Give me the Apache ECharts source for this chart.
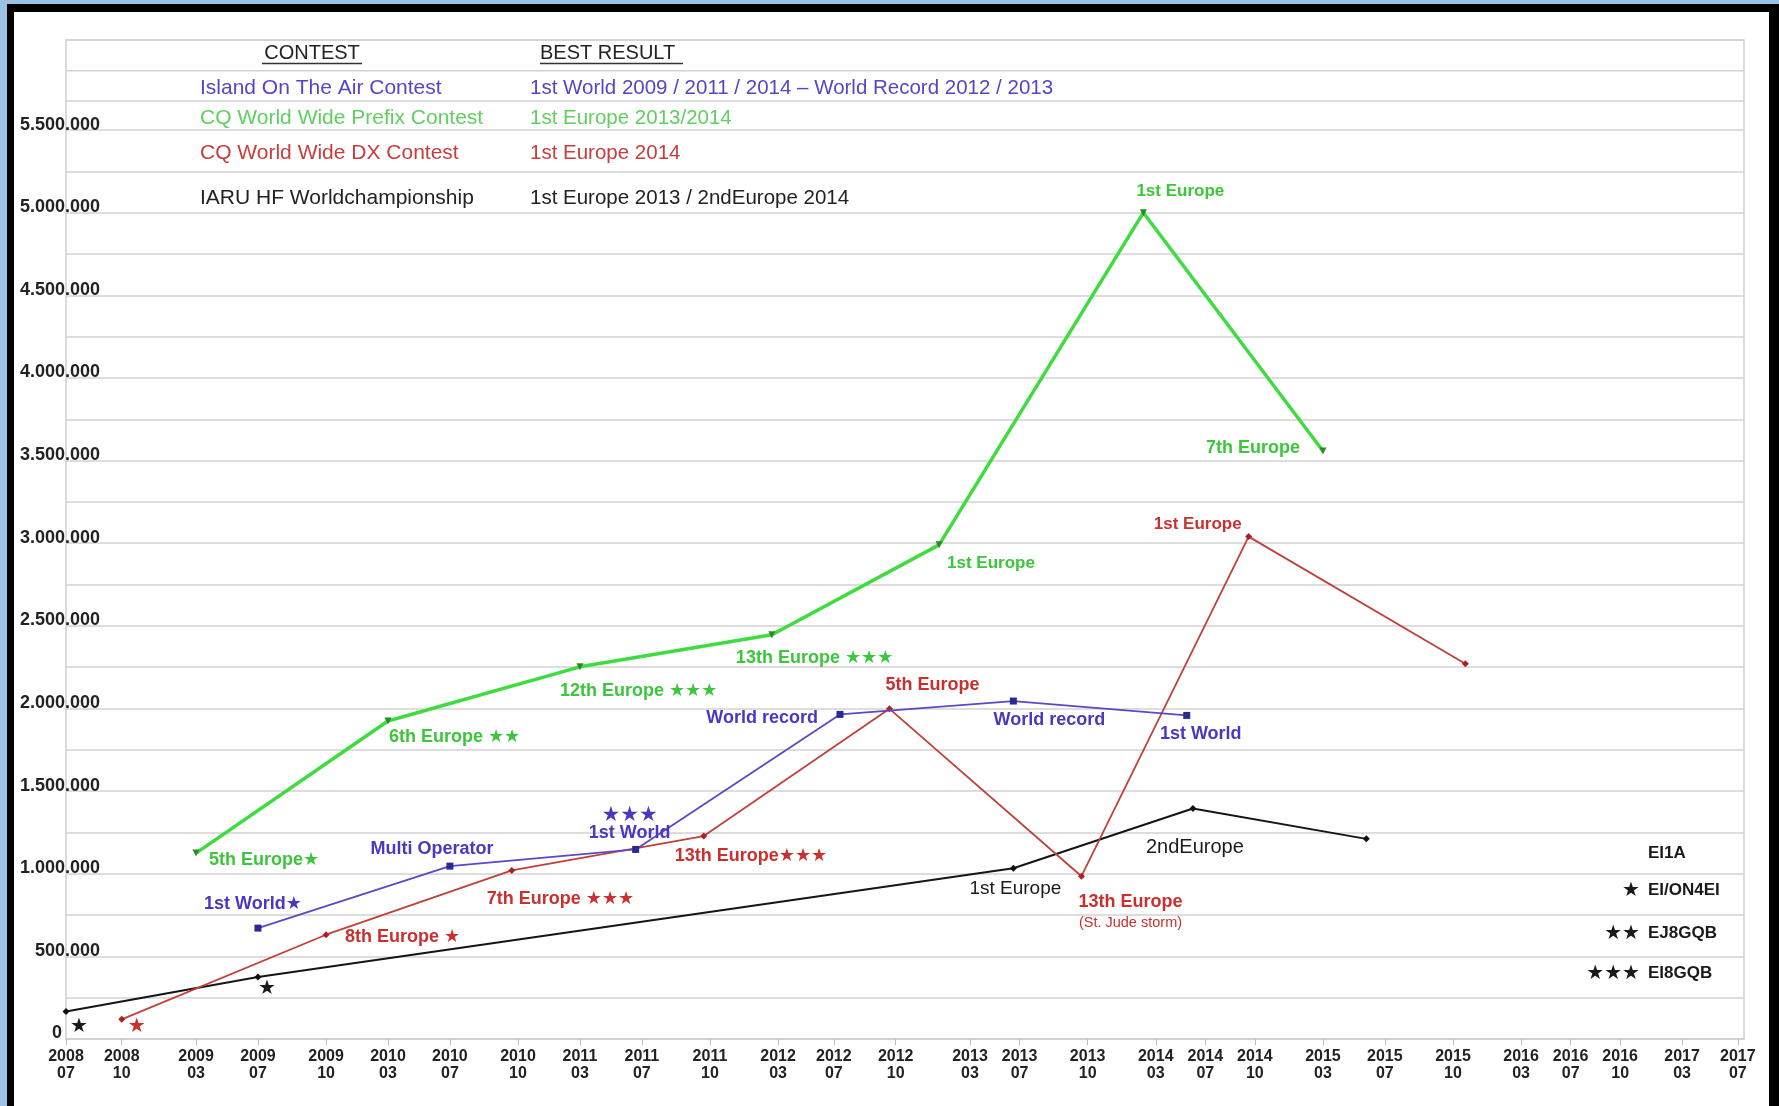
<!DOCTYPE html>
<html><head><meta charset="utf-8">
<script src="https://cdn.jsdelivr.net/npm/echarts@6.0.0/dist/echarts.min.js"></script>
<style>
html,body{margin:0;padding:0;background:#fff;}
#wrap{position:relative;width:1779px;height:1106px;background:#fff;overflow:hidden;}
#chart{position:absolute;left:0;top:0;width:1779px;height:1106px;}
.f{position:absolute;}
</style></head><body>
<div id="wrap">
<div id="chart"></div>
<div class="f" style="left:0;top:0;width:7px;height:1106px;background:#9cc3e6"></div>
<div class="f" style="left:0;top:0;width:1779px;height:4px;background:#9cc3e6"></div>
<div class="f" style="left:7px;top:4px;width:7px;height:1102px;background:#000"></div>
<div class="f" style="left:7px;top:4px;width:1772px;height:8px;background:#000"></div>
<div class="f" style="left:1769px;top:4px;width:10px;height:1102px;background:#000"></div>
</div>
<script>
// ---------- DATA ----------
const tickLabels = ['2008\n07','2008\n10','2009\n03','2009\n07','2009\n10','2010\n03','2010\n07','2010\n10',
  '2011\n03','2011\n07','2011\n10','2012\n03','2012\n07','2012\n10','2013\n03','2013\n07','2013\n10',
  '2014\n03','2014\n07','2014\n10','2015\n03','2015\n07','2015\n10','2016\n03','2016\n07','2016\n10',
  '2017\n03','2017\n07'];
// slot position of each tick label on the (irregular) time axis
const tickSlots = [0,9,21,31,42,52,62,73,83,93,104,115,124,134,146,154,165,176,184,192,203,213,224,235,243,251,261,270];
const slotCount = 272;

const yTickLabels = ['0','500.000','1.000.000','1.500.000','2.000.000','2.500.000','3.000.000',
  '3.500.000','4.000.000','4.500.000','5.000.000','5.500.000'];

const greenX = [21, 52, 83, 114, 141, 174, 203];
const greenY = [1125000, 1924000, 2252000, 2446000, 2990000, 5000000, 3558000];
const greenNotes = ['5th Europe\u2605', '6th Europe \u2605\u2605', '12th Europe \u2605\u2605\u2605',
  '13th Europe \u2605\u2605\u2605', '1st Europe', '1st Europe', '7th Europe'];

const redX = [9, 42, 72, 103, 133, 164, 191, 226];
const redY = [119000, 631000, 1020000, 1228000, 1998000, 985000, 3040000, 2271000];
const redNotes = ['\u2605', '8th Europe \u2605', '7th Europe \u2605\u2605\u2605', '13th Europe\u2605\u2605\u2605',
  '5th Europe', '{a|13th Europe}\n{b|(St. Jude storm)}', '1st Europe', ''];

const blueX = [31, 62, 92, 125, 153, 181];
const blueY = [671000, 1046000, 1147000, 1964000, 2045000, 1958000];
const blueNotes = ['1st World\u2605', 'Multi Operator', '{s|\u2605\u2605\u2605}\n{t|1st World}',
  'World record', 'World record', '1st World'];

const blackX = [0, 31, 153, 182, 210];
const blackY = [166000, 375000, 1033000, 1395000, 1211000];
const blackNotes = ['\u2605', '\u2605', '1st Europe', '2ndEurope', ''];

const contestNames = ['Island On The Air Contest', 'CQ World Wide Prefix Contest',
  'CQ World Wide DX Contest', 'IARU HF Worldchampionship'];
const bestResults = ['1st World 2009 / 2011 / 2014 \u2013 World Record 2012 / 2013', '1st Europe 2013/2014',
  '1st Europe 2014', '1st Europe 2013 / 2ndEurope 2014'];
const legendStars = ['', '\u2605', '\u2605\u2605', '\u2605\u2605\u2605'];
const legendCalls = ['EI1A', 'EI/ON4EI', 'EJ8GQB', 'EI8GQB'];

// ---------- LAYOUT / STYLE ----------
const FONT = '"Liberation Sans", Arial, "DejaVu Sans", sans-serif';
const C = {
  green: '#3fdc3f', greenTxt: '#3cc63c', greenSym: '#2a8a2a',
  red: '#c0403a', redTxt: '#c9302e',
  blue: '#5a48c8', blueTxt: '#4a38c0', blueSym: '#2a2a95',
  black: '#151515', grid: '#d2d2d2'
};
// [align, verticalAlign, dx, dy, fontSize, fontWeight]
const greenLay = [['left','middle',13,7,18,'bold'],['left','middle',1,16,18,'bold'],['left','middle',-20,24,18,'bold'],
  ['left','middle',-36,23,18,'bold'],['left','middle',8,18,17,'bold'],['left','middle',-7,-21,17,'bold'],['right','middle',-23,-3,18,'bold']];
const redLay = [['center','middle',15,7,20,'bold'],['left','middle',19,2,18,'bold'],['left','middle',-25,29,18,'bold'],
  ['left','middle',-29,20,18,'bold'],['left','middle',-4,-24,18,'bold'],['center','top',49,15,18,'bold'],
  ['right','middle',-7,-12,17,'bold'],['left','middle',0,0,18,'bold']];
const blueLay = [['center','middle',-5,-24,18,'bold'],['center','middle',-18,-17,18,'bold'],['center','bottom',-6,-7,18,'bold'],
  ['right','middle',-22,4,18,'bold'],['center','middle',36,19,18,'bold'],['center','middle',14,19,18,'bold']];
const blackLay = [['center','middle',13,15,20,'bold'],['center','middle',9,11,20,'bold'],['center','middle',2,20,19,'normal'],
  ['center','middle',2,39,20,'normal'],['left','middle',0,0,18,'normal']];

function build(xs, ys, notes, lay, color) {
  return xs.map((x, i) => {
    const L = lay[i];
    const item = { value: [x, ys[i]] };
    if (notes[i]) {
      item.label = {
        show: true, formatter: notes[i], position: 'inside',
        align: L[0], verticalAlign: L[1], offset: [L[2], L[3]],
        fontSize: L[4], fontWeight: L[5], color: color, fontFamily: FONT,
        rich: {
          a: { fontSize: 18, fontWeight: 'bold', color: color, fontFamily: FONT, lineHeight: 22, align: 'center' },
          b: { fontSize: 14.5, fontWeight: 'normal', color: color, fontFamily: FONT, lineHeight: 19, align: 'center' },
          s: { fontSize: 21, fontWeight: 'bold', color: color, fontFamily: FONT, lineHeight: 18, align: 'center' },
          t: { fontSize: 18, fontWeight: 'bold', color: color, fontFamily: FONT, lineHeight: 18, align: 'center' }
        }
      };
    } else {
      item.label = { show: false };
    }
    return item;
  });
}

const categories = Array.from({ length: slotCount }, (_, i) => String(i));
const slotToLabel = {};
tickSlots.forEach((s, i) => { slotToLabel[s] = tickLabels[i]; });

const yMax = 6045000, yStep = 250000;
const splitColors = [];
for (let v = 0; v <= yMax + yStep; v += yStep) {
  splitColors.push((v === 5750000 || v === 6000000) ? 'rgba(0,0,0,0)' : C.grid);
}

// graphic (table + right legend)
const graphic = [];
const tblY = [88, 118, 153, 198];
const tblColors = ['#5646c6', '#5fd05f', '#c93c3c', '#222'];
graphic.push({ type: 'line', shape: { x1: 66, y1: 70.7, x2: 1744, y2: 70.7 }, style: { stroke: C.grid, lineWidth: 1.6 }, z: 1 });
graphic.push({ type: 'line', shape: { x1: 66, y1: 101, x2: 1744, y2: 101 }, style: { stroke: C.grid, lineWidth: 1.6 }, z: 1 });
graphic.push({ type: 'text', x: 312, y: 53, style: { text: 'CONTEST', fill: '#222', font: '20px ' + FONT, align: 'center', verticalAlign: 'middle' } });
graphic.push({ type: 'line', shape: { x1: 262, y1: 63.5, x2: 362, y2: 63.5 }, style: { stroke: '#333', lineWidth: 1.5 } });
graphic.push({ type: 'text', x: 540, y: 53, style: { text: 'BEST RESULT', fill: '#222', font: '20px ' + FONT, align: 'left', verticalAlign: 'middle' } });
graphic.push({ type: 'line', shape: { x1: 540, y1: 63.5, x2: 683, y2: 63.5 }, style: { stroke: '#333', lineWidth: 1.5 } });
contestNames.forEach((t, i) => {
  graphic.push({ type: 'text', x: 200, y: tblY[i], style: { text: t, fill: tblColors[i], font: '21px ' + FONT, align: 'left', verticalAlign: 'middle' } });
  graphic.push({ type: 'text', x: 530, y: tblY[i], style: { text: bestResults[i], fill: tblColors[i], font: '20.5px ' + FONT, align: 'left', verticalAlign: 'middle' } });
});
const legY = [853, 890, 933, 973];
legendCalls.forEach((t, i) => {
  graphic.push({ type: 'text', x: 1648, y: legY[i], style: { text: t, fill: '#1a1a1a', font: 'bold 17px ' + FONT, align: 'left', verticalAlign: 'middle' } });
  if (legendStars[i]) graphic.push({ type: 'text', x: 1640, y: legY[i], style: { text: legendStars[i], fill: '#1a1a1a', font: 'bold 20px ' + FONT, align: 'right', verticalAlign: 'middle' } });
});

const common = { showAllSymbol: true };

const chart = echarts.init(document.getElementById('chart'), null, { renderer: 'canvas' });
chart.setOption({
  animation: false,
  backgroundColor: 'transparent',
  grid: { left: 66, right: 35, top: 40, bottom: 67, show: true, borderColor: '#cfcfcf', borderWidth: 1.5,
          containLabel: false, outerBoundsMode: 'none' },
  xAxis: {
    type: 'category', data: categories, boundaryGap: false,
    axisLine: { show: true, lineStyle: { color: '#cfcfcf', width: 1.5 } },
    axisTick: { show: true, length: 6, interval: (idx) => slotToLabel[idx] !== undefined, lineStyle: { color: '#bdbdbd' } },
    axisLabel: {
      show: true, interval: (idx) => slotToLabel[idx] !== undefined,
      formatter: (v, idx) => slotToLabel[idx] || '',
      fontFamily: FONT, fontWeight: 'bold', fontSize: 16, lineHeight: 17, color: '#222', margin: 9
    },
    splitLine: { show: false }
  },
  yAxis: {
    type: 'value', min: 0, max: yMax, interval: yStep,
    axisLine: { show: false }, axisTick: { show: false },
    splitLine: { show: true, lineStyle: { color: splitColors, width: 1.6 } },
    axisLabel: {
      show: true, margin: -34, align: 'right', verticalAlign: 'middle', padding: [0, 0, 11, 0],
      fontFamily: FONT, fontWeight: 'bold', fontSize: 18, color: '#222',
      formatter: (v) => {
        if (v % 500000 !== 0 || v > 5500000) return '';
        const t = yTickLabels[v / 500000];
        return v === 0 ? '{z|' + t + '}' : t;
      },
      rich: { z: { fontFamily: FONT, fontWeight: 'bold', fontSize: 18, color: '#222', padding: [0, 38, 0, 0] } }
    }
  },
  graphic: graphic,
  series: [
    Object.assign({ type: 'line', name: 'IARU HF Worldchampionship', data: build(blackX, blackY, blackNotes, blackLay, '#1a1a1a'),
      symbol: 'diamond', symbolSize: 7, itemStyle: { color: '#111' }, lineStyle: { color: C.black, width: 2 }, z: 3 }, common),
    Object.assign({ type: 'line', name: 'CQ World Wide DX Contest', data: build(redX, redY, redNotes, redLay, C.redTxt),
      symbol: 'diamond', symbolSize: 7, itemStyle: { color: '#b02020' }, lineStyle: { color: C.red, width: 1.8 }, z: 4 }, common),
    Object.assign({ type: 'line', name: 'Island On The Air Contest', data: build(blueX, blueY, blueNotes, blueLay, C.blueTxt),
      symbol: 'rect', symbolSize: 7, itemStyle: { color: C.blueSym }, lineStyle: { color: C.blue, width: 1.8 }, z: 5 }, common),
    Object.assign({ type: 'line', name: 'CQ World Wide Prefix Contest', data: build(greenX, greenY, greenNotes, greenLay, C.greenTxt),
      symbol: 'triangle', symbolRotate: 180, symbolSize: 7, itemStyle: { color: C.greenSym }, lineStyle: { color: C.green, width: 3.5 }, z: 6 }, common)
  ]
});
</script>
</body></html>
